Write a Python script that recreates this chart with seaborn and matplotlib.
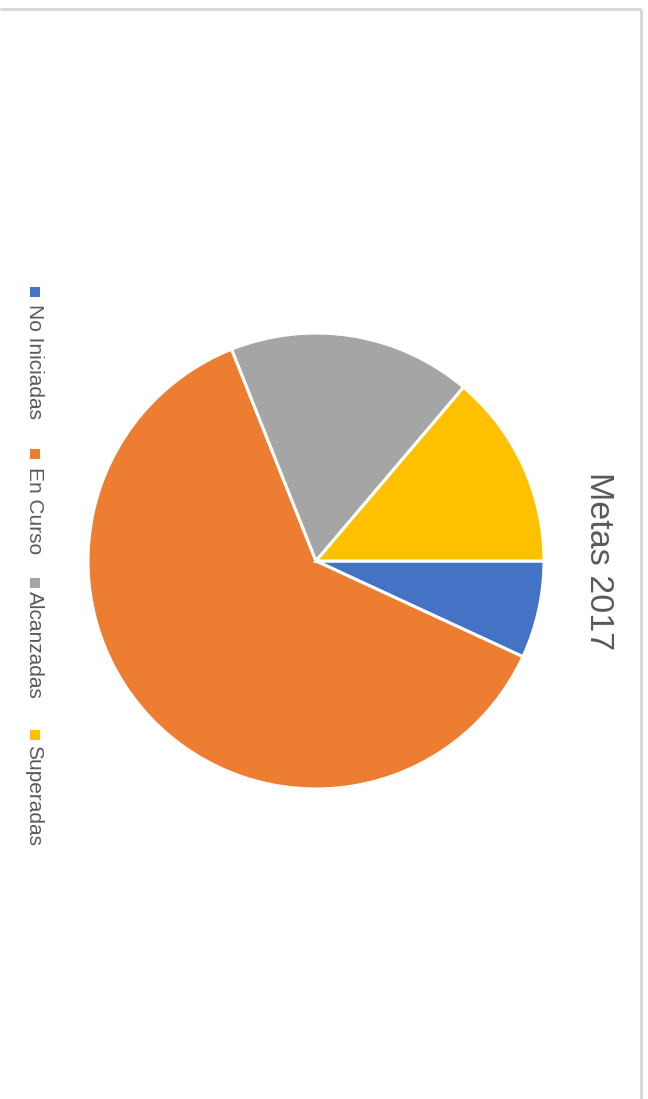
import matplotlib
matplotlib.use("Agg")
import matplotlib.pyplot as plt
import seaborn as sns

categories = ["No Iniciadas", "En Curso", "Alcanzadas", "Superadas"]
values = [2, 18, 5, 4]
colors = ["#4472C4", "#ED7D31", "#A5A5A5", "#FFC000"]
title = "Metas 2017"

sns.set_theme(style="white")
plt.rcParams["font.family"] = ["Liberation Sans", "DejaVu Sans"]

W, H = 648, 1099
fig = plt.figure(figsize=(W / 100, H / 100), dpi=100)
fig.patch.set_facecolor("white")

# pie axes (chart rotated 90 degrees clockwise)
cx, cy, r = 316, 561, 228
ax = fig.add_axes([(cx - r) / W, (H - cy - r) / H, 2 * r / W, 2 * r / H])
palette = sns.color_palette(colors)
ax.pie(values, colors=palette, startangle=0, counterclock=False,
       wedgeprops=dict(edgecolor="white", linewidth=2.2))
ax.set_xlim(-1, 1)
ax.set_ylim(-1, 1)
ax.set_aspect("equal")
ax.axis("off")

# overlay axes in pixel coordinates
ov = fig.add_axes([0, 0, 1, 1], zorder=-1)
ov.set_xlim(0, W)
ov.set_ylim(H, 0)
ov.axis("off")

# frame lines
ov.plot([0, 641], [9, 9], color="#d9d9d9", lw=2.2, solid_capstyle="butt")
ov.plot([641, 641], [9, H], color="#d9d9d9", lw=2.2, solid_capstyle="butt")

# title
ov.text(598, 561, title, rotation=-90, ha="center", va="center",
        fontsize=24.5, color="#595959")

# legend
marker_y = [292, 454, 583, 735]
text_y = [304, 467, 591, 745]
for cat, col, my, ty in zip(categories, palette, marker_y, text_y):
    ov.scatter([35], [my], marker="s", s=42, color=col, linewidths=0)
    ov.text(34, ty, cat, rotation=-90, ha="center", va="top",
            fontsize=15, color="#595959")

fig.savefig("out.png", dpi=100, facecolor="white")
